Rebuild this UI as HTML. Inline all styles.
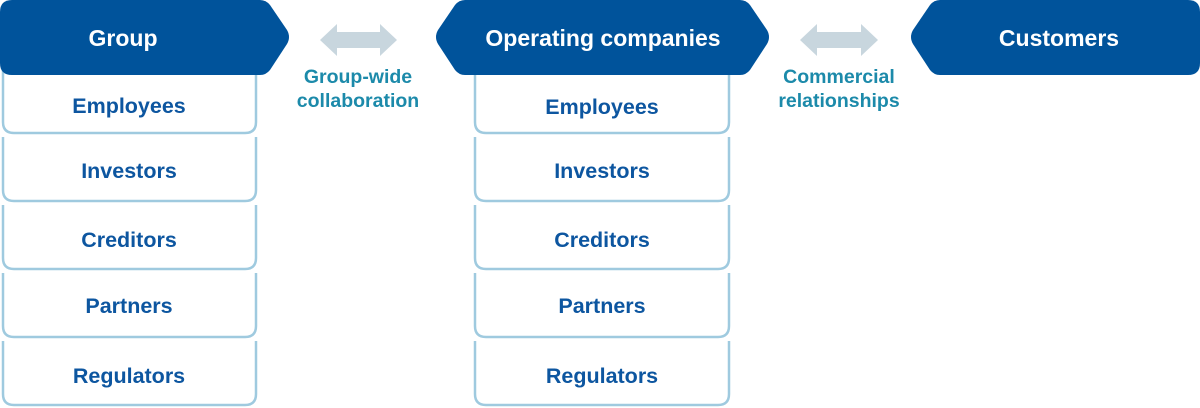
<!DOCTYPE html>
<html><head><meta charset="utf-8"><style>
html,body{margin:0;padding:0;background:#fff;}
svg{display:block}
text{font-family:"Liberation Sans",Arial,sans-serif;font-weight:bold;}
</style></head><body>
<svg width="1200" height="408" viewBox="0 0 1200 408" xmlns="http://www.w3.org/2000/svg">
<g fill="none" stroke="#9fcadf" stroke-width="2.5">
  <path d="M3 70 V122 Q3 133 14 133 H245 Q256 133 256 122 V70"/>
  <path d="M3 137 V190 Q3 201 14 201 H245 Q256 201 256 190 V137"/>
  <path d="M3 205 V258 Q3 269 14 269 H245 Q256 269 256 258 V205"/>
  <path d="M3 273 V326 Q3 337 14 337 H245 Q256 337 256 326 V273"/>
  <path d="M3 341 V394 Q3 405 14 405 H245 Q256 405 256 394 V341"/>
  <path d="M475 70 V122 Q475 133 486 133 H718 Q729 133 729 122 V70"/>
  <path d="M475 137 V190 Q475 201 486 201 H718 Q729 201 729 190 V137"/>
  <path d="M475 205 V258 Q475 269 486 269 H718 Q729 269 729 258 V205"/>
  <path d="M475 273 V326 Q475 337 486 337 H718 Q729 337 729 326 V273"/>
  <path d="M475 341 V394 Q475 405 486 405 H718 Q729 405 729 394 V341"/>
</g>
<g fill="#00539b">
  <path d="M12 0 H260 Q266 0 270 5 L287 30 Q291 37 287 44 L270 70 Q266 75 260 75 H12 Q0 75 0 63 V12 Q0 0 12 0 Z"/>
  <path d="M465 0 H740 Q746 0 750 5 L767 30 Q771 37 767 44 L750 70 Q746 75 740 75 H465 Q459 75 455 70 L438 44 Q434 37 438 30 L455 5 Q459 0 465 0 Z"/>
  <path d="M940 0 H1188 Q1200 0 1200 12 V63 Q1200 75 1188 75 H940 Q934 75 930 70 L913 44 Q909 37 913 30 L930 5 Q934 0 940 0 Z"/>
</g>
<g fill="#c8d6de">
  <path d="M320 40 L337 24 V32 H380 V24 L397 40 L380 56 V48 H337 V56 Z"/>
  <path d="M800 40 L817 24 V32 H861 V24 L878 40 L861 56 V48 H817 V56 Z"/>
</g>
<g fill="#fff" font-size="23" text-anchor="middle">
  <text x="123" y="46">Group</text>
  <text x="603" y="46">Operating companies</text>
  <text x="1059" y="46">Customers</text>
</g>
<g fill="#1c8aaa" font-size="19.5" text-anchor="middle">
  <text x="358" y="83">Group-wide</text>
  <text x="358" y="107">collaboration</text>
  <text x="839" y="83">Commercial</text>
  <text x="839" y="107">relationships</text>
</g>
<g fill="#0d56a0" font-size="21.5" text-anchor="middle">
  <text x="129" y="113">Employees</text>
  <text x="129" y="178">Investors</text>
  <text x="129" y="247">Creditors</text>
  <text x="129" y="313">Partners</text>
  <text x="129" y="383">Regulators</text>
  <text x="602" y="114">Employees</text>
  <text x="602" y="178">Investors</text>
  <text x="602" y="247">Creditors</text>
  <text x="602" y="313">Partners</text>
  <text x="602" y="383">Regulators</text>
</g>
</svg>
</body></html>
